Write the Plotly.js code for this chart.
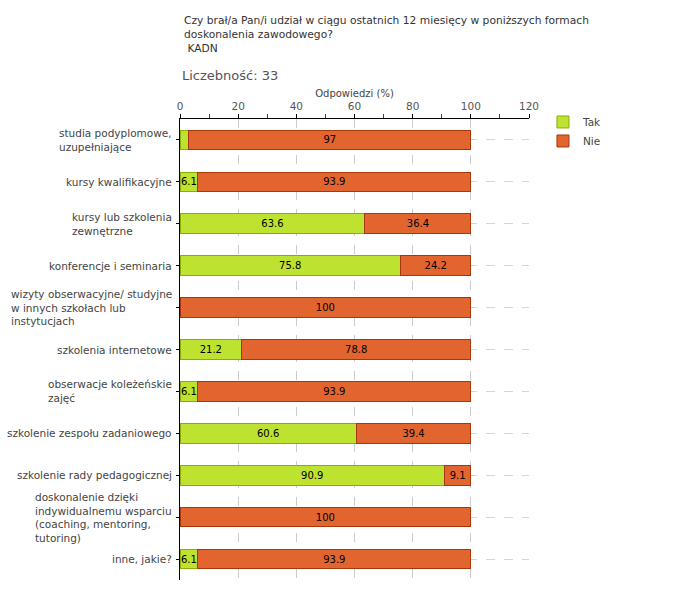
<!DOCTYPE html>
<html><head><meta charset="utf-8">
<script src="https://cdn.plot.ly/plotly-3.0.1.min.js"></script>
<style>body{margin:0;background:#fff}#c{width:680px;height:600px}</style>
</head><body><div id="c"></div>
<script>
const categories = [
  "studia podyplomowe,<br>uzupełniające",
  "kursy kwalifikacyjne",
  "kursy lub szkolenia<br>zewnętrzne",
  "konferencje i seminaria",
  "wizyty obserwacyjne/ studyjne<br>w innych szkołach lub<br>instytucjach",
  "szkolenia internetowe",
  "obserwacje koleżeńskie<br>zajęć",
  "szkolenie zespołu zadaniowego",
  "szkolenie rady pedagogicznej",
  "doskonalenie dzięki<br>indywidualnemu wsparciu<br>(coaching, mentoring,<br>tutoring)",
  "inne, jakie?"
];
const tak = [3.0, 6.1, 63.6, 75.8, 0, 21.2, 6.1, 60.6, 90.9, 0, 6.1];
const nie = [97, 93.9, 36.4, 24.2, 100, 78.8, 93.9, 39.4, 9.1, 100, 93.9];
const seriesNames = ["Tak", "Nie"];
const titleText = "Czy brał/a Pan/i udział w ciągu ostatnich 12 miesięcy w poniższych formach<br>doskonalenia zawodowego?<br> KADN";
const countText = "Liczebność: 33";
const axisTitle = "Odpowiedzi (%)";

const FONT = "DejaVu Sans, Verdana, sans-serif";
const lbl = v => (v >= 5 ? String(v) : "");

const traces = [
  {type:"bar", orientation:"h", name:seriesNames[0], y:categories, x:tak,
   text:tak.map(lbl), textposition:"inside", insidetextanchor:"middle", constraintext:"none", textangle:0,
   textfont:{family:FONT, size:10, color:"#000"},
   marker:{color:"#bde22f", line:{color:"#8cac0a", width:1}}},
  {type:"bar", orientation:"h", name:seriesNames[1], y:categories, x:nie,
   text:nie.map(lbl), textposition:"inside", insidetextanchor:"middle", constraintext:"none", textangle:0,
   textfont:{family:FONT, size:10, color:"#000"},
   marker:{color:"#e2642f", line:{color:"#a8380c", width:1}}}
];

const annotations = [
  {text:titleText, xref:"paper", yref:"paper", x:0.006, y:1.232, xanchor:"left", yanchor:"top", align:"left",
   showarrow:false, font:{family:FONT, size:10.7, color:"#333"}},
  {text:countText, xref:"paper", yref:"paper", x:0.0, y:1.095, xanchor:"left", yanchor:"middle",
   showarrow:false, font:{family:FONT, size:13, color:"#555"}}
].concat(categories.map(c => ({
  text:c, xref:"paper", yref:"y", x:0, y:c, xanchor:"right", yanchor:"middle", align:"left",
  xshift:-6, showarrow:false, font:{family:FONT, size:10.5, color:"#444"}
})));

const layout = {
  width:680, height:600,
  margin:{l:180, r:151, t:119, b:20},
  paper_bgcolor:"#fff", plot_bgcolor:"#fff",
  barmode:"stack", bargap:0.53,
  font:{family:FONT, size:10, color:"#444"},
  showlegend:true,
  legend:{x:1.04, y:1.025, xanchor:"left", yanchor:"top", traceorder:"normal",
          font:{family:FONT, size:10.5, color:"#444"}, itemwidth:30, bgcolor:"rgba(0,0,0,0)"},
  xaxis:{side:"top", range:[0,120], tickmode:"linear", dtick:20, tick0:0, showline:true, linecolor:"#000", linewidth:1,
         ticks:"outside", ticklen:4, tickcolor:"#000", tickfont:{family:FONT, size:10.5, color:"#555"},
         showgrid:true, gridcolor:"#cccccc", gridwidth:1, griddash:"dash", zeroline:false,
         minor:{dtick:10, ticks:"outside", ticklen:4, tickcolor:"#e00000"},
         title:{text:axisTitle, font:{family:FONT, size:10, color:"#444"}, standoff:0},
         fixedrange:true},
  yaxis:{type:"category", autorange:"reversed", showticklabels:false, showline:true, linecolor:"#000",
         linewidth:1, ticks:"outside", ticklen:3, tickcolor:"#000", showgrid:true, gridcolor:"#d6d6d6",
         griddash:"dash", zeroline:false, fixedrange:true},
  annotations:annotations
};

Plotly.newPlot("c", traces, layout, {displayModeBar:false, staticPlot:true});
</script></body></html>
